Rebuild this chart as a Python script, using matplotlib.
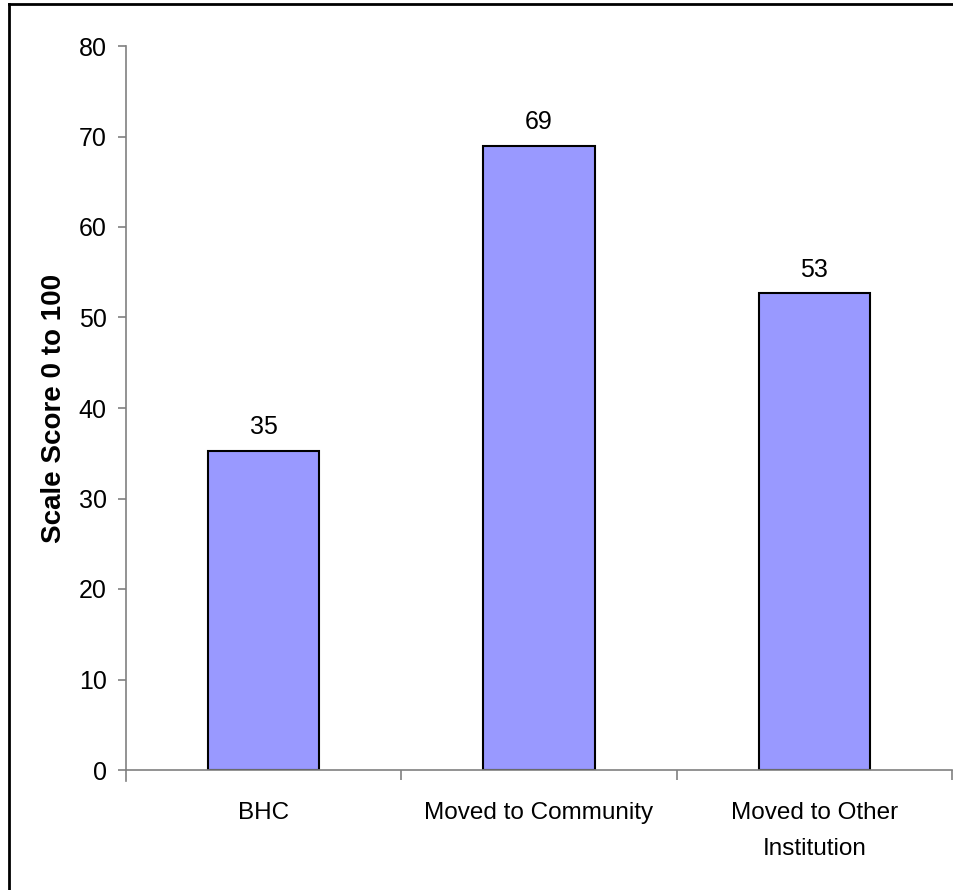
import matplotlib.pyplot as plt
from matplotlib.lines import Line2D

plt.rcParams['font.family'] = ['Liberation Sans', 'DejaVu Sans']

categories = ['BHC', 'Moved to Community', 'Moved to Other\nInstitution']
scores = [35.3, 69.0, 52.7]
yticks = [0, 10, 20, 30, 40, 50, 60, 70, 80]

fig = plt.figure(figsize=(9.54, 8.9), dpi=100)
ax = fig.add_axes([126 / 954, 1 - 770 / 890, 826 / 954, 724 / 890])

pos = range(len(categories))
bars = ax.bar(pos, scores, width=0.405, color='#9999ff', edgecolor='black', linewidth=1.5)

for b, v in zip(bars, scores):
    ax.annotate(f'{v:.0f}', (b.get_x() + b.get_width() / 2, v), xytext=(0, 8),
                textcoords='offset points', ha='center', va='bottom', fontsize=18)

ax.set_xlim(-0.5, 2.5)
ax.set_ylim(0, 80)
ax.set_yticks(yticks)
ax.tick_params(axis='y', labelsize=18, length=6, color='#808080', width=1.2, pad=8)
ax.set_xticks([0.5, 1.5, 2.5], minor=False)
ax.set_xticklabels([])
ax.set_xticks(list(pos), minor=True)
ax.set_xticklabels(categories, minor=True, fontsize=17.5, linespacing=1.8)
ax.tick_params(axis='x', which='major', length=7, color='#808080', width=1.2)
ax.tick_params(axis='x', which='minor', length=0, pad=23)
# extra tick at the left end of the x axis
ax.plot([-0.5, -0.5], [0, -1.2], color='#808080', lw=1.2, clip_on=False)

for s in ['top', 'right']:
    ax.spines[s].set_visible(False)
for s in ['left', 'bottom']:
    ax.spines[s].set_color('#808080')
    ax.spines[s].set_linewidth(1.2)

ax.set_ylabel('Scale Score 0 to 100', fontsize=20, fontweight='bold', labelpad=8)

# chart frame, top and left edges
fig.add_artist(Line2D([9 / 954, 9 / 954], [0, 1 - 4 / 890], transform=fig.transFigure, color='black', lw=2))
fig.add_artist(Line2D([9 / 954, 1], [1 - 4 / 890, 1 - 4 / 890], transform=fig.transFigure, color='black', lw=2))

fig.savefig('out.png', dpi=100)
